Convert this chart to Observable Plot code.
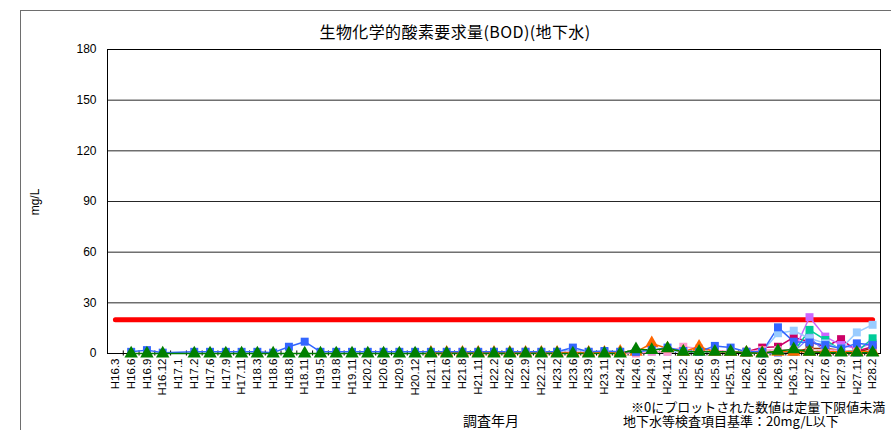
<!DOCTYPE html>
<html>
<head>
<meta charset="utf-8">
<script src="https://cdn.jsdelivr.net/npm/d3@7"></script>
<script src="https://cdn.jsdelivr.net/npm/@observablehq/plot@0.6"></script>
<style>
  html, body { margin: 0; padding: 0; background: #fff; overflow: hidden; }
  #wrap { position: relative; width: 891px; height: 430px; overflow: hidden; }
  #border { position: absolute; left: 20px; top: 10px; width: 1000px; height: 600px; border: 1px solid #6e6e6e; box-sizing: border-box; }
  .t { position: absolute; white-space: nowrap; font-family: "Noto Sans CJK JP", sans-serif; color: #000; }
  #chart { position: absolute; left: 0; top: 0; }
</style>
</head>
<body>
<div id="wrap">
  <div id="border"></div>
  <div id="chart"></div>
  <div class="t" id="title" style="left:455px; top:31px; transform:translate(-50%,-50%); font-size:16px; letter-spacing:0.4px;">生物化学的酸素要求量(BOD)(地下水)</div>
  <div class="t" id="ylab" style="left:35px; top:202px; transform:translate(-50%,-50%) rotate(-90deg); font-size:12px; font-family:'Liberation Sans',sans-serif;">mg/L</div>
  <div class="t" id="xlab" style="left:491px; top:420px; transform:translate(-50%,-50%); font-size:14px;">調査年月</div>
  <div class="t" id="notes" style="left:623px; top:400px; font-size:13px; line-height:14px; text-indent:8px; white-space:pre;">※0にプロットされた数値は定量下限値未満
地下水等検査項目基準：20mg/L以下</div>
</div>
<script>
const labels = ["H16.3","H16.6","H16.9","H16.12","H17.1","H17.2","H17.6","H17.9","H17.11","H18.3","H18.6","H18.8","H18.11","H19.5","H19.8","H19.11","H20.2","H20.6","H20.9","H20.12","H21.1","H21.6","H21.8","H21.11","H22.2","H22.6","H22.9","H22.12","H23.2","H23.6","H23.9","H23.11","H24.2","H24.6","H24.9","H24.11","H25.2","H25.6","H25.9","H25.11","H26.2","H26.6","H26.9","H26.12","H27.2","H27.6","H27.9","H27.11","H28.2"];
const yTicks = [0, 30, 60, 90, 120, 150, 180];
const standardValue = 20;

const brown    = [null,null,null,null,null,null,null,null,null,null,null,null,null,null,null,null,null,null,null,null,null,null,null,null,null,null,null,null,null,null,null,null,null,null,null,null,null,null,null,null,0.5,0.5,1,1,3,3,2,1,3];
const crimson  = [null,null,null,null,null,null,null,null,null,null,null,null,null,null,null,null,null,null,null,null,null,null,null,null,null,null,null,null,null,null,null,null,null,null,null,null,null,null,null,null,1,3.5,4,9.5,7,4,8.5,1.5,4];
const violet   = [null,null,null,null,null,null,null,null,null,null,null,null,null,null,null,null,null,null,null,null,null,null,null,null,null,null,null,null,null,null,null,null,null,null,null,null,null,null,null,null,0.5,0.5,1,1,21.5,10,5,3,6];
const purple   = [null,null,null,null,null,null,null,null,null,null,null,null,null,null,null,null,null,null,null,null,null,null,null,null,null,null,null,null,null,null,null,null,null,null,null,null,null,null,null,null,0.5,0,0.5,1,9.5,1,1,0.5,1];
const teal     = [null,null,null,null,null,null,null,null,null,null,null,null,null,null,null,null,null,null,null,null,null,null,null,null,null,null,null,null,null,null,null,null,null,null,null,null,null,null,null,null,0.5,0.5,1,1,14,8,2,1,9];
const lightBlue= [null,null,null,null,null,null,null,null,null,null,null,null,null,null,null,null,null,null,null,null,null,null,null,null,1,1,1,1,1,2,1,1,1,1,1,1,1,1,1,1,1,1,12,13.5,9,6,3,12.5,17];
const pink     = [null,null,null,null,null,null,null,null,null,null,null,null,null,null,null,null,null,null,null,null,null,null,1,0.5,0.5,0.5,1,0.5,0.5,1,0.5,0.5,0.5,0,1,1,4,3,2,1,1,2,2,2,1,2,2,1,1];
const orange   = [null,null,null,null,null,null,null,null,null,null,null,null,null,null,null,null,null,null,null,null,0.5,0.5,0.5,0.5,0.5,0.5,0.5,0.5,0.5,0.5,0.5,0.5,1,1,6,3,1,4,1,1,0.5,0.5,1,1,1,1,1,1,1];
const blue     = [null,1,2,0.5,null,1,1,1,1,1,0.5,4,7,1,1,1,1,1,1,1,1,1,1,1,1,1,1,1,1,3.5,1,1.5,1,1,2,3.5,1.5,1,4.5,3.5,1,1,15.5,7,6.5,5,3,6,5];
const green    = [null,0,0,0,null,0,0,0,0,0,0,0,0,0,0,0,0,0,0,0,0,0,0,0,0,0,0,0,0,0,0,0,0,2.5,2,3,1,1,1,1,0.5,0,1.5,2.5,1,0.5,0.5,0.5,0.5];

const seriesList = [
  {name: "brown", values: brown},
  {name: "crimson", values: crimson},
  {name: "violet", values: violet},
  {name: "purple", values: purple},
  {name: "teal", values: teal},
  {name: "lightBlue", values: lightBlue},
  {name: "pink", values: pink},
  {name: "orange", values: orange},
  {name: "blue", values: blue},
  {name: "green", values: green}
];
const styles = {
  brown: {color: "#993300", symbol: "square"},
  crimson: {color: "#CC0066", symbol: "square"},
  violet: {color: "#CC66FF", symbol: "square"},
  purple: {color: "#8080FF", symbol: "square"},
  teal: {color: "#00CC99", symbol: "square"},
  lightBlue: {color: "#99CCFF", symbol: "square"},
  pink: {color: "#FF99CC", symbol: "square"},
  orange: {color: "#FF6600", symbol: "triangle"},
  blue: {color: "#3366FF", symbol: "square"},
  green: {color: "#008000", symbol: "triangle"}
};

const W = 891, H = 430, ML = 107, MR = 11, MT = 49, MB = 77;
const halfStep = (W - ML - MR) / labels.length / 2;

const marks = [
  Plot.gridY(yTicks.slice(1, -1), {stroke: "#000", strokeOpacity: 0.85, strokeWidth: 1}),
  Plot.frame({stroke: "#000", strokeWidth: 1}),
  Plot.axisY(yTicks, {tickSize: 0, tickPadding: 11, fontSize: 12, label: null}),
  Plot.axisX({tickSize: 0, tickPadding: 5, tickRotate: -90, fontSize: 11.5, label: null}),
  Plot.ruleX(labels.slice(0, -1), {x: d => d, dx: halfStep, y1: -1.5, y2: 1.5, stroke: "#000"}),
  Plot.line(labels, {x: d => d, y: () => standardValue, stroke: "#FF0000", strokeWidth: 5})
];

for (const s of seriesList) {
  const st = styles[s.name];
  const rows = labels.map((l, i) => ({x: l, y: s.values[i]})).filter(d => d.y != null);
  marks.push(Plot.line(rows, {x: "x", y: "y", stroke: st.color, strokeWidth: 1.5}));
}
for (const s of seriesList) {
  const st = styles[s.name];
  const rows = labels.map((l, i) => ({x: l, y: s.values[i]})).filter(d => d.y != null);
  marks.push(Plot.dot(rows, {x: "x", y: "y", fill: st.color, symbol: st.symbol, r: st.symbol === "square" ? 4.5 : 5}));
}

const chart = Plot.plot({
  width: W, height: H,
  marginLeft: ML, marginRight: MR, marginTop: MT, marginBottom: MB,
  x: {type: "point", domain: labels},
  y: {domain: [0, 180]},
  style: {fontFamily: "'Liberation Sans', Arial, sans-serif", background: "transparent", color: "#000"},
  marks
});
document.getElementById("chart").appendChild(chart);
</script>
</body>
</html>
